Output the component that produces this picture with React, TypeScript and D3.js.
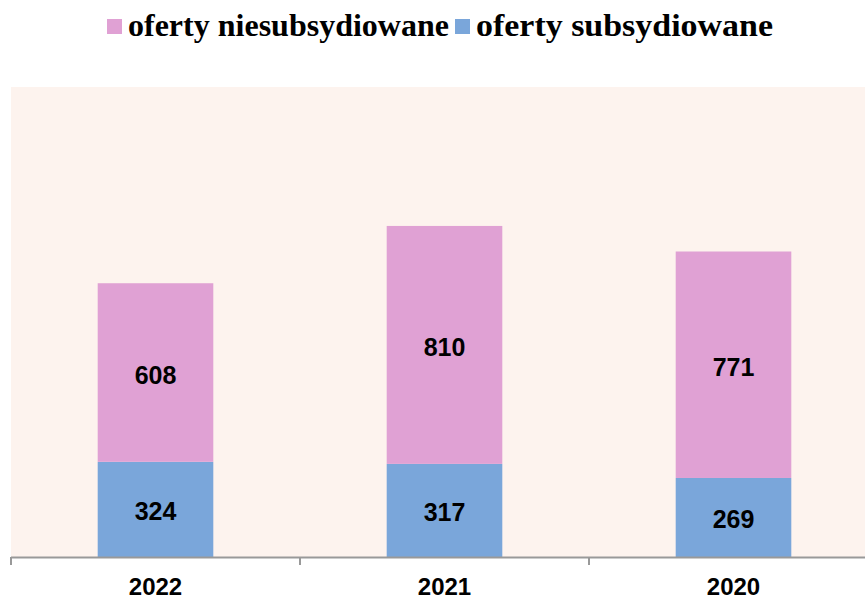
import React from "react";
import * as d3 from "d3";

const categories = ["2022", "2021", "2020"];
const subsidized = [324, 317, 269];
const unsubsidized = [608, 810, 771];
const seriesNames = ["oferty niesubsydiowane", "oferty subsydiowane"];
const yMax = 1600;

const W = 865;
const H = 601;
const plotLeft = 11;
const plotRight = 878;
const plotTop = 87;
const plotBottom = 557;

const PINK = "#e0a1d4";
const BLUE = "#7aa6da";
const BG = "#fdf3ee";

export default function App() {
  const x = d3.scaleBand<string>().domain(categories).range([plotLeft, plotRight]).padding(0);
  const y = d3.scaleLinear().domain([0, yMax]).range([plotBottom, plotTop]);
  const barW = x.bandwidth() * 0.4;
  const ticks = d3.range(categories.length + 1).map((i) => plotLeft + i * x.step());

  const labelFont = "'Liberation Sans', Arial, sans-serif";
  const legendFont = "'Liberation Serif', 'Times New Roman', serif";

  return (
    <svg width={W} height={H} style={{ position: "absolute", left: 0, top: 0 }}>
      <rect x={0} y={0} width={W} height={H} fill="#ffffff" />
      <rect x={plotLeft} y={plotTop} width={W - plotLeft} height={plotBottom - plotTop} fill={BG} />
      {categories.map((c, i) => {
        const cx = (x(c) as number) + x.bandwidth() / 2;
        const s = subsidized[i];
        const u = unsubsidized[i];
        const ySTop = y(s);
        const yUTop = y(s + u);
        return (
          <g key={c}>
            <rect x={cx - barW / 2} y={ySTop} width={barW} height={plotBottom - ySTop} fill={BLUE} />
            <rect x={cx - barW / 2} y={yUTop} width={barW} height={ySTop - yUTop} fill={PINK} />
            <text x={cx} y={(ySTop + plotBottom) / 2 + 11} textAnchor="middle" fontFamily={labelFont} fontWeight="bold" fontSize={25} fill="#000">
              {s}
            </text>
            <text x={cx} y={(yUTop + ySTop) / 2 + 11} textAnchor="middle" fontFamily={labelFont} fontWeight="bold" fontSize={25} fill="#000">
              {u}
            </text>
            <text x={cx} y={595} textAnchor="middle" fontFamily={labelFont} fontWeight="bold" fontSize={24} fill="#000">
              {c}
            </text>
          </g>
        );
      })}
      <line x1={plotLeft} x2={W} y1={plotBottom + 0.5} y2={plotBottom + 0.5} stroke="#999" strokeWidth={2} />
      {ticks.map((t, i) => (
        <line key={i} x1={t} x2={t} y1={plotBottom} y2={plotBottom + 8} stroke="#999" strokeWidth={2} />
      ))}
      <g>
        <rect x={107} y={19} width={15} height={15} fill={PINK} />
        <text x={128} y={36} fontFamily={legendFont} fontWeight="bold" fontSize={32} textLength={321} lengthAdjust="spacingAndGlyphs" fill="#000">
          {seriesNames[0]}
        </text>
        <rect x={455} y={19} width={15} height={15} fill={BLUE} />
        <text x={476} y={36} fontFamily={legendFont} fontWeight="bold" fontSize={32} textLength={297} lengthAdjust="spacingAndGlyphs" fill="#000">
          {seriesNames[1]}
        </text>
      </g>
    </svg>
  );
}
